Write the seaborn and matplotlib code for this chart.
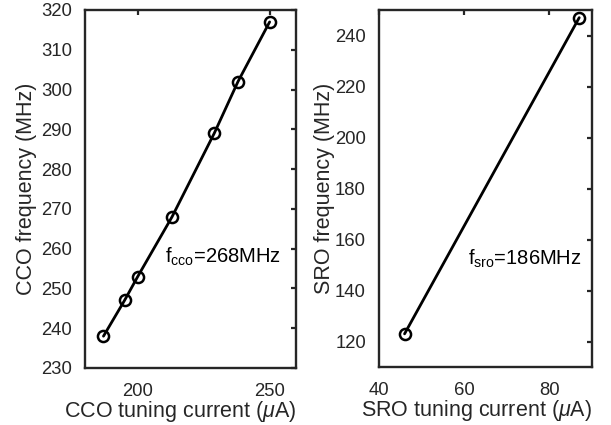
import matplotlib
matplotlib.use("Agg")
import matplotlib.pyplot as plt
import seaborn as sns
import pandas as pd

cco_current = [187, 195, 200, 213, 229, 238, 250]
cco_freq = [238, 247, 253, 268, 289, 302, 317]
sro_current = [46, 87]
sro_freq = [123, 247]
cco_xticks = [200, 250]
cco_yticks = [230, 240, 250, 260, 270, 280, 290, 300, 310, 320]
sro_xticks = [40, 60, 80]
sro_yticks = [120, 140, 160, 180, 200, 220, 240]

sns.set_theme(style="white")
plt.rcParams['font.family'] = ['Liberation Sans', 'DejaVu Sans']
plt.rcParams['mathtext.fontset'] = 'custom'
plt.rcParams['mathtext.rm'] = 'Liberation Sans'
plt.rcParams['mathtext.it'] = 'Liberation Sans:italic'

fig = plt.figure(figsize=(6.11, 4.25), dpi=100)
ax1 = fig.add_axes([85/611, (425-368)/425, 211/611, 358/425])
ax2 = fig.add_axes([379/611, (425-367)/425, 213/611, 357/425])

df1 = pd.DataFrame({"x": cco_current, "y": cco_freq})
df2 = pd.DataFrame({"x": sro_current, "y": sro_freq})

gray = (0.15, 0.15, 0.15)
for ax, df, xl, yl, xt, yt, xlab, ylab, txt, tpos, xlc, ylc in [
    (ax1, df1, (180, 260), (230, 320), cco_xticks, cco_yticks,
     "CCO tuning current ($\\mu$A)", "CCO frequency (MHz)",
     "f$_{\\mathrm{cco}}$=268MHz", (210.5, 258), (0.45, -0.1215), (-0.276, 0.5)),
    (ax2, df2, (40, 90), (110, 250), sro_xticks, sro_yticks,
     "SRO tuning current ($\\mu$A)", "SRO frequency (MHz)",
     "f$_{\\mathrm{sro}}$=186MHz", (60.8, 152.6), (0.46, -0.1215), (-0.256, 0.5)),
]:
    sns.lineplot(data=df, x="x", y="y", ax=ax, color="black", linewidth=2,
                 marker="o", markersize=8, markerfacecolor="none",
                 markeredgecolor="black", markeredgewidth=1.8)
    ax.set_xlim(*xl)
    ax.set_ylim(*yl)
    ax.set_xticks(xt)
    ax.set_yticks(yt)
    ax.set_xlabel(xlab, fontsize=15.5, color=gray)
    ax.set_ylabel(ylab, fontsize=15.5, color=gray)
    ax.xaxis.set_label_coords(*xlc)
    ax.yaxis.set_label_coords(*ylc)
    ax.xaxis.label.set_va("center")
    ax.yaxis.label.set_va("center")
    ax.tick_params(axis="both", direction="in", length=3.5, width=1.6, colors=gray,
                   labelsize=13.3, top=True, right=True)
    ax.tick_params(axis="x", pad=10.5)
    ax.tick_params(axis="y", pad=9.4)
    for s in ax.spines.values():
        s.set_color(gray)
        s.set_linewidth(1.7)
    ax.text(tpos[0], tpos[1], txt, fontsize=14.5, color="black",
            ha="left", va="center")

fig.savefig("out.png", dpi=100)
